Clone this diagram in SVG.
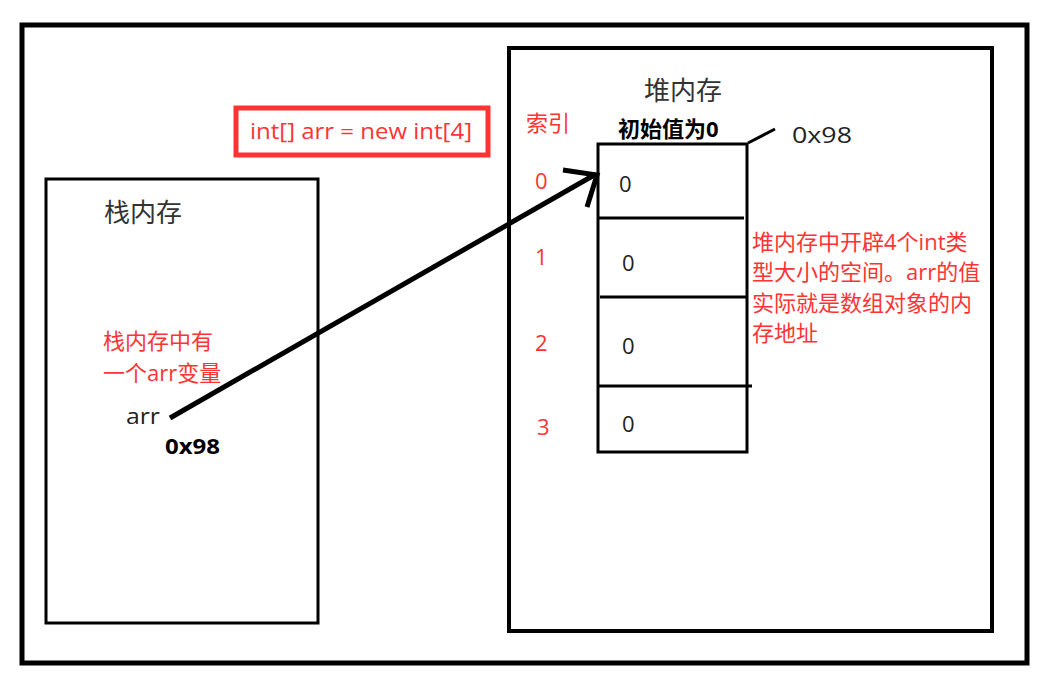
<svg xmlns="http://www.w3.org/2000/svg" width="1058" height="685" viewBox="0 0 1058 685">
<style>
text{font-family:"Open Sans","Noto Sans CJK SC",sans-serif;font-size:22px}
.red{fill:#f33}
.dark{fill:#222}
.title{fill:#333;font-size:26px}
.bold{font-weight:bold;fill:#000}
.box{fill:none;stroke:#000}
</style>
<rect width="1058" height="685" fill="#fff"/>
<g id="frame"><rect class="box" x="22" y="25" width="1005" height="638" stroke-width="5"/></g>
<g id="code"><rect x="236" y="108" width="252" height="47" fill="none" stroke="#f33" stroke-width="5"/>
<text class="red" x="250" y="139" font-size="23" textLength="222" lengthAdjust="spacingAndGlyphs">int[] arr = new int[4]</text></g>
<g id="stack"><rect class="box" x="46" y="179" width="272" height="444" stroke-width="3"/>
<text class="title" x="104" y="222">栈内存</text>
<text class="red" x="103" y="349">栈内存中有</text>
<text class="red" x="103" y="381">一个arr变量</text>
<text class="dark" x="126" y="424" font-size="23" textLength="34" lengthAdjust="spacingAndGlyphs">arr</text>
<text class="bold" x="165" y="454" font-size="23" textLength="55" lengthAdjust="spacingAndGlyphs">0x98</text></g>
<g id="heap"><rect class="box" x="509" y="48" width="483" height="583" stroke-width="4"/>
<text class="title" x="644" y="100">堆内存</text>
<text class="red" x="526" y="131">索引</text>
<text class="bold" x="618" y="137" font-size="23">初始值为0</text>
<text class="dark" x="792" y="143" font-size="24" textLength="60" lengthAdjust="spacingAndGlyphs">0x98</text>
<line x1="748" y1="143" x2="775" y2="129" stroke="#000" stroke-width="3"/>
<text class="red" x="535" y="189">0</text>
<text class="red" x="535" y="265">1</text>
<text class="red" x="535" y="351">2</text>
<text class="red" x="537" y="435">3</text>
<text class="red" x="752" y="250">堆内存中开辟4个int类</text>
<text class="red" x="752" y="280">型大小的空间。arr的值</text>
<text class="red" x="752" y="311">实际就是数组对象的内</text>
<text class="red" x="752" y="341">存地址</text></g>
<g id="array"><rect class="box" x="598" y="144" width="149" height="308" stroke-width="3"/>
<line x1="598" y1="218" x2="744" y2="218" stroke="#000" stroke-width="3"/>
<line x1="600" y1="297" x2="747" y2="297" stroke="#000" stroke-width="3"/>
<line x1="598" y1="386" x2="752" y2="386" stroke="#000" stroke-width="3"/>
<text class="dark" x="619" y="192" font-size="23">0</text>
<text class="dark" x="622" y="271" font-size="23">0</text>
<text class="dark" x="622" y="354" font-size="23">0</text>
<text class="dark" x="622" y="432" font-size="23">0</text></g>
<g id="connectors"><path d="M170 418 L596 174" stroke="#000" stroke-width="5" fill="none"/>
<path d="M563 170 L597 175 L587 207" stroke="#000" stroke-width="5" fill="none" stroke-linejoin="miter"/></g>
</svg>
